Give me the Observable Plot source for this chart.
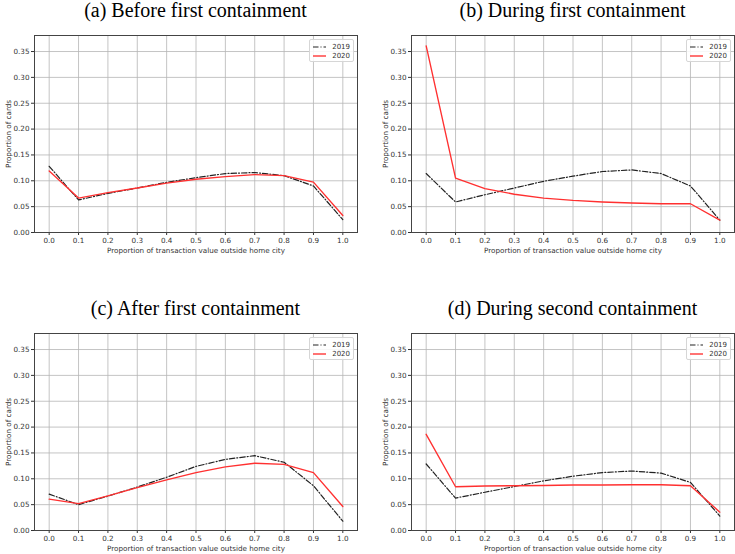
<!DOCTYPE html>
<html>
<head>
<meta charset="utf-8">
<script src="https://cdn.jsdelivr.net/npm/d3@7"></script>
<script src="https://cdn.jsdelivr.net/npm/@observablehq/plot@0.6"></script>
<style>
  html, body { margin: 0; padding: 0; background: #fff; }
  #root { position: relative; width: 735px; height: 554px; overflow: hidden; }
  .panel { position: absolute; }
  .title { font-family: "Liberation Serif", "Times New Roman", serif; font-size: 20px; color: #000; text-align: center; height: 25px; line-height: 21px; white-space: nowrap; }
  .legend { position: absolute; border: 1px solid #d6d6d6; border-radius: 2px; background: rgba(255,255,255,0.85); font-family: "DejaVu Sans", sans-serif; font-size: 7px; color: #333; padding: 2px 3px 1px 3px; }
  .legend .row { display: flex; align-items: center; height: 9px; }
  .legend svg { margin-right: 6px; }
</style>
</head>
<body>
<div id="root"></div>
<script>
const xValues = [0.0, 0.1, 0.2, 0.3, 0.4, 0.5, 0.6, 0.7, 0.8, 0.9, 1.0];
const xTicks = [0.0, 0.1, 0.2, 0.3, 0.4, 0.5, 0.6, 0.7, 0.8, 0.9, 1.0];
const yTicks = [0.00, 0.05, 0.10, 0.15, 0.20, 0.25, 0.30, 0.35];
const years = ["2019", "2020"];
const titles = ["(a) Before first containment", "(b) During first containment", "(c) After first containment", "(d) During second containment"];
const xLabel = "Proportion of transaction value outside home city";
const yLabel = "Proportion of cards";

const a2019 = [0.128, 0.063, 0.0756, 0.086, 0.097, 0.106, 0.114, 0.116, 0.110, 0.090, 0.025];
const a2020 = [0.119, 0.0665, 0.077, 0.086, 0.0956, 0.103, 0.108, 0.112, 0.110, 0.0975, 0.033];
const b2019 = [0.114, 0.059, 0.073, 0.086, 0.099, 0.109, 0.118, 0.121, 0.114, 0.090, 0.024];
const b2020 = [0.361, 0.105, 0.085, 0.074, 0.0665, 0.062, 0.059, 0.057, 0.0556, 0.0556, 0.024];
const c2019 = [0.0704, 0.050, 0.0665, 0.084, 0.103, 0.124, 0.1376, 0.1447, 0.132, 0.0866, 0.018];
const c2020 = [0.0607, 0.052, 0.067, 0.083, 0.098, 0.112, 0.123, 0.130, 0.128, 0.112, 0.0465];
const d2019 = [0.1286, 0.0627, 0.074, 0.085, 0.096, 0.105, 0.112, 0.115, 0.111, 0.093, 0.028];
const d2020 = [0.186, 0.0846, 0.086, 0.0866, 0.087, 0.088, 0.088, 0.0885, 0.0885, 0.0866, 0.0355];

const panelSeries = [[a2019, a2020], [b2019, b2020], [c2019, c2020], [d2019, d2020]];

const colors = {"2019": "#222222", "2020": "#ff3030"};
const dashes = {"2019": "5.5,2,1,2", "2020": null};
const widths = {"2019": 1.2, "2020": 1.35};

const layout = [
  {left: 0, top: 0, width: 368, ml: 34, mr: 11},
  {left: 368, top: 0, width: 367, ml: 43, mr: 1},
  {left: 0, top: 298, width: 368, ml: 34, mr: 11},
  {left: 368, top: 298, width: 367, ml: 43, mr: 1}
];

const root = document.getElementById("root");

layout.forEach((L, i) => {
  const panel = document.createElement("div");
  panel.className = "panel";
  panel.style.left = L.left + "px";
  panel.style.top = L.top + "px";
  panel.style.width = L.width + "px";

  const title = document.createElement("div");
  title.className = "title";
  title.style.paddingLeft = L.ml + "px";
  title.style.paddingRight = L.mr + "px";
  title.textContent = titles[i];
  panel.appendChild(title);

  const rows = [];
  panelSeries[i].forEach((vals, k) => {
    vals.forEach((v, j) => rows.push({x: xValues[j], y: v, year: years[k]}));
  });

  const marks = [
    Plot.gridX(xTicks, {stroke: "#b5b5b5", strokeOpacity: 1, strokeWidth: 0.8}),
    Plot.gridY(yTicks, {stroke: "#b5b5b5", strokeOpacity: 1, strokeWidth: 0.8}),
    Plot.axisX({ticks: xTicks, tickFormat: d => d.toFixed(1), tickSize: 3, tickPadding: 2,
      label: xLabel, labelAnchor: "center", labelArrow: false, labelOffset: 20, stroke: "#333", fill: "#333"}),
    Plot.axisY({ticks: yTicks, tickFormat: d => d.toFixed(2), tickSize: 3, tickPadding: 2,
      label: yLabel, labelAnchor: "center", labelArrow: false, labelOffset: 29, stroke: "#333", fill: "#333"}),
  ];
  years.forEach(yr => {
    marks.push(Plot.line(rows.filter(r => r.year === yr), {
      x: "x", y: "y", stroke: colors[yr], strokeWidth: widths[yr],
      strokeDasharray: dashes[yr] || undefined
    }));
  });
  marks.push(Plot.frame({stroke: "#444", strokeWidth: 1}));

  const chart = Plot.plot({
    width: L.width,
    height: 235,
    marginLeft: L.ml,
    marginRight: L.mr,
    marginTop: 10,
    marginBottom: 28,
    x: {domain: [-0.05, 1.05]},
    y: {domain: [0, 0.381]},
    style: {fontFamily: "DejaVu Sans, sans-serif", fontSize: "7.2px", color: "#333", background: "transparent", overflow: "visible"},
    marks
  });
  chart.style.display = "block";
  panel.appendChild(chart);

  const legend = document.createElement("div");
  legend.className = "legend";
  legend.style.right = (L.mr + 3) + "px";
  legend.style.top = (25 + 10 + 4) + "px";
  years.forEach(yr => {
    const row = document.createElement("div");
    row.className = "row";
    const s = d3.create("svg").attr("width", 13).attr("height", 6);
    s.append("line").attr("x1", 0).attr("x2", 13).attr("y1", 3).attr("y2", 3)
      .attr("stroke", colors[yr]).attr("stroke-width", widths[yr])
      .attr("stroke-dasharray", dashes[yr]);
    row.appendChild(s.node());
    const t = document.createElement("span");
    t.textContent = yr;
    row.appendChild(t);
    legend.appendChild(row);
  });
  panel.appendChild(legend);

  root.appendChild(panel);
});
</script>
</body>
</html>
